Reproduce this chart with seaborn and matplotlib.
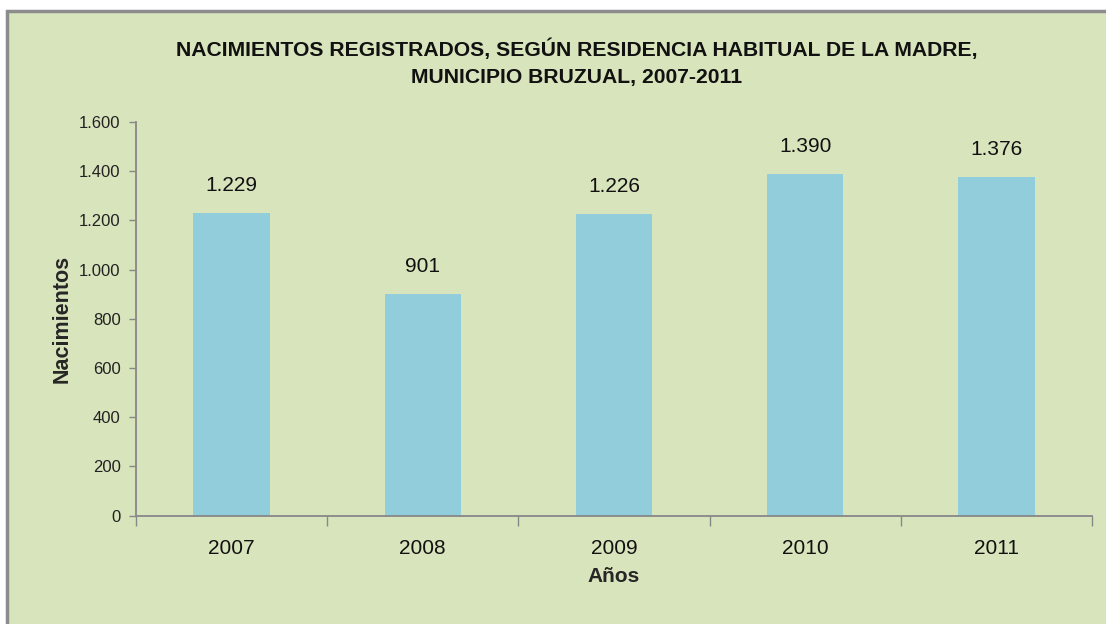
import numpy as np
import pandas as pd
import seaborn as sns
import matplotlib.pyplot as plt
from matplotlib.patches import Rectangle
from matplotlib.ticker import FuncFormatter

years = ['2007', '2008', '2009', '2010', '2011']
births = [1229, 901, 1226, 1390, 1376]

df = pd.DataFrame({'Año': years, 'Nacimientos': births})

sns.set_style('white')
plt.rcParams['font.family'] = ['Liberation Sans', 'DejaVu Sans']

bg = '#D8E4BC'
fig = plt.figure(figsize=(11.06, 6.24), dpi=100)
fig.patch.set_facecolor('white')

# chart area frame (runs past the right/bottom edge like the reference)
bg_ax = fig.add_axes([0, 0, 1, 1], zorder=-10)
bg_ax.set_axis_off()
bg_ax.set_xlim(0, 1106)
bg_ax.set_ylim(624, 0)
bg_ax.add_patch(Rectangle((7, 11), 1200, 700, facecolor=bg,
                          edgecolor='#8c8c8c', linewidth=2.5))

ax = fig.add_axes([136 / 1106, 1 - 515.7 / 624, 956 / 1106, (515.7 - 122) / 624])
ax.patch.set_alpha(0)

sns.barplot(data=df, x='Año', y='Nacimientos', color='#92CDDC', width=0.4,
            saturation=1, linewidth=0, ax=ax)

ax.set_ylim(0, 1600)
ax.set_xlim(-0.5, len(years) - 0.5)
ax.set_yticks(np.arange(0, 1601, 200))
ax.yaxis.set_major_formatter(FuncFormatter(lambda v, p: f'{int(v):,}'.replace(',', '.')))
ax.tick_params(axis='y', left=True, length=5, width=1, color='#888888',
               labelsize=12, labelcolor='#222222', pad=6)

# category labels at bar centres, tick marks at the boundaries
ax.set_xticks(range(len(years)))
ax.set_xticklabels(years)
ax.set_xticks(np.arange(-0.5, len(years)), minor=True)
ax.tick_params(axis='x', which='major', length=0, labelsize=15, pad=17,
               labelcolor='#111111')
ax.tick_params(axis='x', which='minor', bottom=True, length=7, width=1, color='#888888')

for s in ['top', 'right']:
    ax.spines[s].set_visible(False)
for s in ['left', 'bottom']:
    ax.spines[s].set_color('#888888')
    ax.spines[s].set_linewidth(1.3)

for i, v in enumerate(births):
    ax.annotate(f'{v:,}'.replace(',', '.'), (i, v), xytext=(0, 13),
                textcoords='offset points', ha='center', va='bottom', fontsize=15,
                color='#111111')

ax.set_xlabel('Años', fontsize=15, fontweight='bold', labelpad=6)
ax.set_ylabel('Nacimientos', fontsize=15.5, fontweight='bold', labelpad=5)

fig.text(577 / 1106, 1 - 62.5 / 624,
         'NACIMIENTOS REGISTRADOS, SEGÚN RESIDENCIA HABITUAL DE LA MADRE,\nMUNICIPIO BRUZUAL, 2007-2011',
         ha='center', va='center', fontsize=15.2, fontweight='bold', linespacing=1.55,
         color='#111111')

fig.savefig('out.png', dpi=100, facecolor=fig.get_facecolor())
